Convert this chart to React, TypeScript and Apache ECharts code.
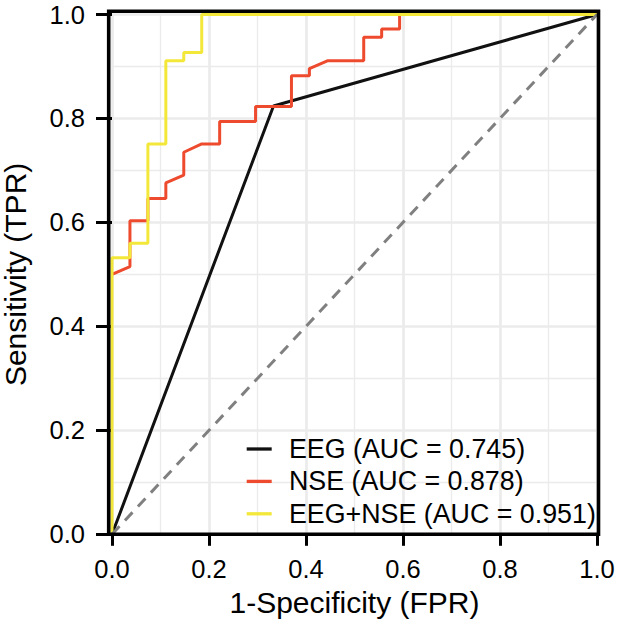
import React, { useEffect, useRef } from "react";
import * as echarts from "echarts";

const tickValues = [0, 0.2, 0.4, 0.6, 0.8, 1.0];
const seriesNames = ["EEG (AUC = 0.745)", "NSE (AUC = 0.878)", "EEG+NSE (AUC = 0.951)"];
const seriesColors = ["#111111", "#EE4A2E", "#F3E83A"];

// ROC curve vertices [FPR, TPR]
const eegPoints = [
  [0, 0],
  [0.333, 0.824],
  [1, 1],
];

const nsePoints = [
  [0, 0.5],
  [0.037, 0.515],
  [0.037, 0.603],
  [0.074, 0.603],
  [0.074, 0.646],
  [0.111, 0.646],
  [0.111, 0.676],
  [0.148, 0.691],
  [0.148, 0.735],
  [0.185, 0.751],
  [0.222, 0.751],
  [0.222, 0.794],
  [0.296, 0.794],
  [0.296, 0.823],
  [0.37, 0.823],
  [0.37, 0.882],
  [0.407, 0.882],
  [0.407, 0.896],
  [0.444, 0.911],
  [0.519, 0.911],
  [0.519, 0.956],
  [0.556, 0.956],
  [0.556, 0.972],
  [0.593, 0.972],
  [0.593, 1.0],
  [1.0, 1.0],
];

const comboPoints = [
  [0, 0],
  [0, 0.532],
  [0.037, 0.532],
  [0.037, 0.56],
  [0.074, 0.56],
  [0.074, 0.751],
  [0.111, 0.751],
  [0.111, 0.911],
  [0.148, 0.911],
  [0.148, 0.927],
  [0.185, 0.927],
  [0.185, 1.0],
  [1.0, 1.0],
];

const chancePoints = [
  [0, 0],
  [1, 1],
];

const FONT = "'Liberation Sans', Arial, Helvetica, sans-serif";

export default function App() {
  const ref = useRef<HTMLDivElement>(null);

  useEffect(() => {
    if (!ref.current) return;
    const chart = echarts.init(ref.current, undefined, { renderer: "svg" });

    const gridLeft = 112;
    const gridRight = 22;
    const gridTop = 14.5;
    const gridBottom = 92.7;

    const axisCommon = (isX: boolean) => ({
      type: "value" as const,
      min: tickValues[0],
      max: tickValues[tickValues.length - 1],
      interval: 0.2,
      axisLine: { show: false },
      axisTick: {
        show: true,
        length: isX ? 11.5 : 16,
        lineStyle: { color: "#000", width: 3 },
      },
      axisLabel: {
        color: "#000",
        fontSize: 25.5,
        fontFamily: FONT,
        margin: isX ? 22 : 27,
        formatter: (v: number) => v.toFixed(1),
      },
      splitLine: { show: true, lineStyle: { color: "#EBEBEB", width: 2.7 } },
      minorTick: { show: false, splitNumber: 2 },
      minorSplitLine: { show: true, lineStyle: { color: "#EBEBEB", width: 1.3 } },
      nameLocation: "middle" as const,
      nameTextStyle: { color: "#000", fontSize: 30, fontFamily: FONT },
    });

    const lineSeries = (name: string, data: number[][], color: string) => ({
      name,
      type: "line" as const,
      data,
      showSymbol: false,
      symbol: "none",
      color,
      itemStyle: { color },
      lineStyle: { color, width: 3 },
      z: 3,
    });

    chart.setOption({
      animation: false,
      backgroundColor: "#fff",
      grid: {
        left: gridLeft,
        right: gridRight,
        top: gridTop,
        bottom: gridBottom,
        containLabel: false,
        outerBoundsMode: "none",
      },
      xAxis: { ...axisCommon(true), name: "1-Specificity (FPR)", nameGap: 45 },
      yAxis: { ...axisCommon(false), name: "Sensitivity (TPR)", nameGap: 82, nameRotate: 90 },
      legend: {
        data: seriesNames,
        orient: "vertical",
        left: 246.7,
        top: 432.8,
        padding: 0,
        itemGap: 0,
        itemWidth: 25,
        itemHeight: 3.3,
        icon: "rect",
        selectedMode: false,
        textStyle: {
          color: "#000",
          fontSize: 26.8,
          fontFamily: FONT,
          lineHeight: 32.4,
          padding: [0, 0, 0, 12.3],
        },
      },
      series: [
        lineSeries(seriesNames[0], eegPoints, seriesColors[0]),
        lineSeries(seriesNames[1], nsePoints, seriesColors[1]),
        lineSeries(seriesNames[2], comboPoints, seriesColors[2]),
        {
          name: "chance",
          type: "line",
          data: chancePoints,
          showSymbol: false,
          symbol: "none",
          color: "#808080",
          lineStyle: { color: "#808080", width: 3, type: [11, 8] },
          z: 4,
        },
      ],
      graphic: [
        {
          type: "rect",
          z: 100,
          silent: true,
          shape: { x: 108.7, y: 11.2, width: 489.8, height: 523 },
          style: { fill: "none", stroke: "#000", lineWidth: 3.6 },
        },
      ],
    });

    return () => chart.dispose();
  }, []);

  return (
    <div
      ref={ref}
      style={{ position: "fixed", left: 0, top: 0, width: 619, height: 627 }}
    />
  );
}
